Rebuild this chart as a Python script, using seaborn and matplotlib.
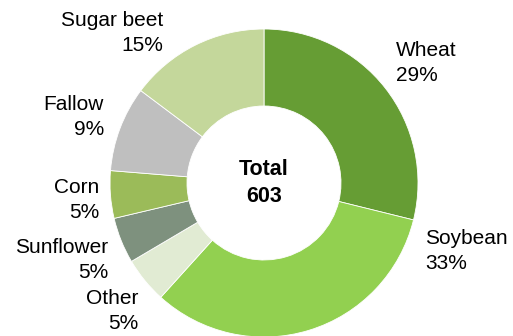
import matplotlib
matplotlib.use("Agg")
import matplotlib.pyplot as plt
import seaborn as sns

categories = ["Wheat", "Soybean", "Other", "Sunflower", "Corn", "Fallow", "Sugar beet"]
values = [174, 198, 29, 29, 30, 54, 89]
percent_labels = ["29%", "33%", "5%", "5%", "5%", "9%", "15%"]
total_label = "603"
colors_hex = ["#669d34", "#92d050", "#e1ebd3", "#7e917e", "#9bbb59", "#bfbfbf", "#c4d79b"]

sns.set_theme(style="white")
plt.rcParams['font.family'] = ['Liberation Sans', 'DejaVu Sans']

W, H = 513, 336
fig = plt.figure(figsize=(W / 100, H / 100), dpi=100)
cx, cy, R = 264, 183, 154
ax = fig.add_axes([(cx - R) / W, (H - cy - R) / H, 2 * R / W, 2 * R / H])

palette = sns.color_palette(colors_hex)
ax.pie(values, colors=palette, startangle=90, counterclock=False, radius=1,
       wedgeprops=dict(width=0.5, edgecolor="white", linewidth=0.6))
ax.set_xlim(-1, 1)
ax.set_ylim(-1, 1)
ax.set_aspect("equal")
ax.axis("off")

# label anchors (pixel positions of the text block edge / centre)
label_pos = {
    "Wheat": (396, 63, "left"),
    "Soybean": (425, 251, "left"),
    "Other": (138, 311, "right"),
    "Sunflower": (108, 260, "right"),
    "Corn": (99, 200, "right"),
    "Fallow": (104, 117, "right"),
    "Sugar beet": (163, 33, "right"),
}
for cat, pct in zip(categories, percent_labels):
    px, py, ha = label_pos[cat]
    ax.text((px - cx) / R, (cy - py) / R, f"{cat}\n{pct}", ha=ha, va="center",
            multialignment=ha, fontsize=15, linespacing=1.4, color="black",
            clip_on=False)

ax.text(0, 0, f"Total\n{total_label}", ha="center", va="center", fontsize=15.5,
        fontweight="bold", linespacing=1.4, color="black")

fig.savefig("out.png", dpi=100)
